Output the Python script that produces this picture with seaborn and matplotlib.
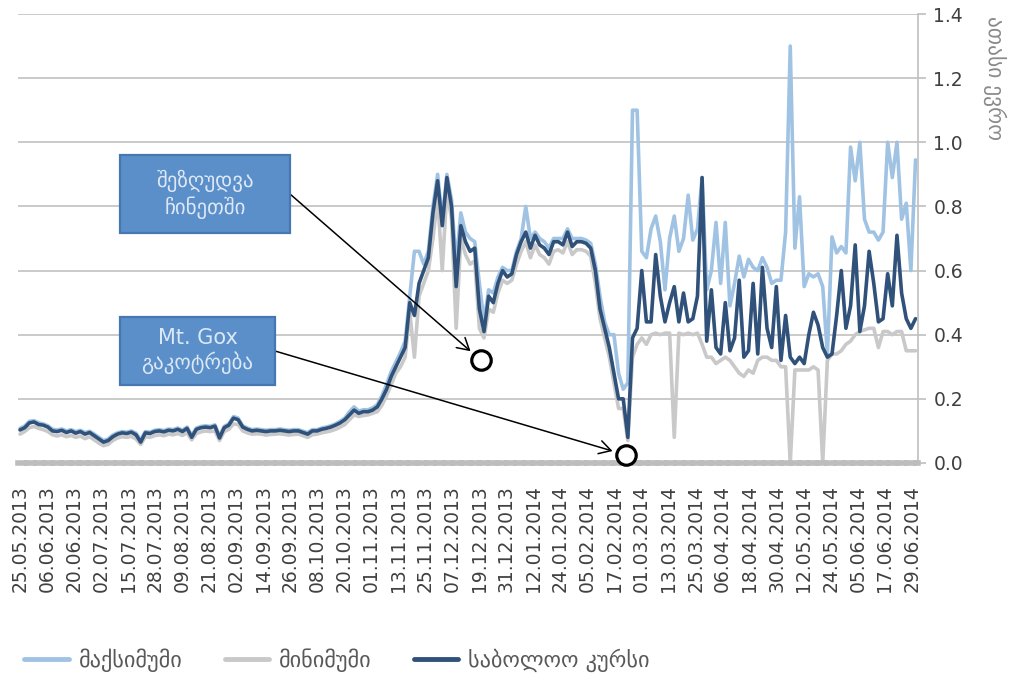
import matplotlib
matplotlib.use("Agg")
import matplotlib.pyplot as plt
import numpy as np
import pandas as pd
import seaborn as sns
from matplotlib.patches import Rectangle

sns.set_theme(style="white")
plt.rcParams["font.family"] = ["DejaVu Sans"]

# x tick labels, one every 12 trading days
tick_dates = [
    "25.05.2013", "06.06.2013", "20.06.2013", "02.07.2013", "15.07.2013",
    "28.07.2013", "09.08.2013", "21.08.2013", "02.09.2013", "14.09.2013",
    "26.09.2013", "08.10.2013", "20.10.2013", "01.11.2013", "13.11.2013",
    "25.11.2013", "07.12.2013", "19.12.2013", "31.12.2013", "12.01.2014",
    "24.01.2014", "05.02.2014", "17.02.2014", "01.03.2014", "13.03.2014",
    "25.03.2014", "06.04.2014", "18.04.2014", "30.04.2014", "12.05.2014",
    "24.05.2014", "05.06.2014", "17.06.2014", "29.06.2014",
]
y_ticks = [0.0, 0.2, 0.4, 0.6, 0.8, 1.0, 1.2, 1.4]

# thousand euro, every second day
close_price = [
    0.103, 0.110, 0.125, 0.128, 0.120, 0.118, 0.112, 0.100, 0.098, 0.102,
    0.095, 0.100, 0.093, 0.098, 0.090, 0.095, 0.085, 0.075, 0.065, 0.070,
    0.082, 0.090, 0.094, 0.092, 0.096, 0.088, 0.065, 0.094, 0.092, 0.098,
    0.100, 0.097, 0.102, 0.100, 0.105, 0.098, 0.108, 0.080, 0.105, 0.110,
    0.112, 0.110, 0.115, 0.078, 0.110, 0.118, 0.140, 0.135, 0.112, 0.105,
    0.100, 0.102, 0.100, 0.098, 0.100, 0.100, 0.102, 0.100, 0.098, 0.100,
    0.100, 0.095, 0.090, 0.100, 0.100, 0.105, 0.108, 0.112, 0.118, 0.125,
    0.135, 0.150, 0.165, 0.155, 0.160, 0.160, 0.165, 0.175, 0.200, 0.230,
    0.270, 0.300, 0.330, 0.360, 0.500, 0.460, 0.560, 0.600, 0.640, 0.780,
    0.880, 0.740, 0.890, 0.800, 0.550, 0.740, 0.690, 0.660, 0.670, 0.480,
    0.410, 0.520, 0.500, 0.560, 0.600, 0.580, 0.590, 0.650, 0.690, 0.720,
    0.670, 0.710, 0.680, 0.670, 0.650, 0.690, 0.690, 0.680, 0.720, 0.675,
    0.690, 0.690, 0.685, 0.670, 0.600, 0.480, 0.420, 0.360, 0.280, 0.200,
    0.200, 0.080, 0.390, 0.420, 0.600, 0.440, 0.440, 0.650, 0.520, 0.440,
    0.500, 0.550, 0.440, 0.530, 0.440, 0.450, 0.520, 0.890, 0.380, 0.540,
    0.360, 0.340, 0.500, 0.350, 0.390, 0.570, 0.330, 0.350, 0.560, 0.340,
    0.610, 0.420, 0.360, 0.550, 0.320, 0.460, 0.330, 0.310, 0.330, 0.310,
    0.400, 0.470, 0.430, 0.360, 0.330, 0.340, 0.460, 0.600, 0.420, 0.490,
    0.680, 0.410, 0.490, 0.660, 0.560, 0.440, 0.450, 0.590, 0.490, 0.710,
    0.530, 0.450, 0.420, 0.450,
]
max_price = [
    0.108, 0.115, 0.130, 0.132, 0.125, 0.122, 0.116, 0.105, 0.103, 0.106,
    0.100, 0.104, 0.098, 0.102, 0.095, 0.099, 0.090, 0.080, 0.070, 0.075,
    0.087, 0.094, 0.098, 0.096, 0.100, 0.093, 0.072, 0.098, 0.096, 0.102,
    0.104, 0.101, 0.106, 0.104, 0.109, 0.102, 0.112, 0.086, 0.109, 0.114,
    0.116, 0.114, 0.119, 0.084, 0.114, 0.122, 0.145, 0.140, 0.116, 0.109,
    0.104, 0.106, 0.104, 0.102, 0.104, 0.104, 0.106, 0.104, 0.102, 0.104,
    0.104, 0.099, 0.095, 0.104, 0.104, 0.109, 0.112, 0.116, 0.122, 0.130,
    0.140, 0.160, 0.175, 0.162, 0.166, 0.166, 0.172, 0.182, 0.210, 0.245,
    0.285, 0.315, 0.345, 0.380, 0.520, 0.660, 0.660, 0.620, 0.660, 0.800,
    0.900, 0.760, 0.900, 0.820, 0.620, 0.780, 0.720, 0.700, 0.690, 0.560,
    0.440, 0.540, 0.530, 0.580, 0.610, 0.600, 0.600, 0.660, 0.700, 0.800,
    0.700, 0.720, 0.700, 0.690, 0.670, 0.700, 0.700, 0.700, 0.730, 0.700,
    0.700, 0.700, 0.695, 0.685, 0.620, 0.520, 0.440, 0.400, 0.400, 0.280,
    0.230, 0.250, 1.100, 1.100, 0.660, 0.640, 0.730, 0.770, 0.690, 0.540,
    0.700, 0.770, 0.660, 0.700, 0.835, 0.695, 0.730, 0.890, 0.540, 0.600,
    0.750, 0.560, 0.750, 0.490, 0.560, 0.645, 0.580, 0.635, 0.610, 0.600,
    0.640, 0.610, 0.560, 0.570, 0.570, 0.720, 1.300, 0.670, 0.830, 0.550,
    0.590, 0.580, 0.590, 0.550, 0.340, 0.705, 0.655, 0.675, 0.655, 0.985,
    0.880, 1.000, 0.760, 0.720, 0.720, 0.695, 0.720, 1.000, 0.890, 1.000,
    0.760, 0.810, 0.600, 0.945,
]
min_price = [
    0.090, 0.098, 0.110, 0.114, 0.108, 0.104, 0.098, 0.088, 0.084, 0.088,
    0.082, 0.086, 0.080, 0.084, 0.076, 0.082, 0.072, 0.062, 0.054, 0.058,
    0.070, 0.078, 0.082, 0.080, 0.083, 0.075, 0.058, 0.082, 0.080, 0.085,
    0.088, 0.085, 0.090, 0.088, 0.092, 0.086, 0.094, 0.072, 0.092, 0.097,
    0.100, 0.098, 0.100, 0.070, 0.098, 0.105, 0.122, 0.120, 0.100, 0.094,
    0.090, 0.091, 0.090, 0.087, 0.089, 0.090, 0.091, 0.089, 0.087, 0.089,
    0.090, 0.085, 0.080, 0.088, 0.090, 0.094, 0.097, 0.100, 0.105, 0.112,
    0.120, 0.135, 0.150, 0.145, 0.148, 0.150, 0.155, 0.160, 0.180, 0.210,
    0.245, 0.280, 0.300, 0.330, 0.470, 0.330, 0.520, 0.560, 0.600, 0.700,
    0.830, 0.600, 0.850, 0.760, 0.420, 0.700, 0.650, 0.620, 0.630, 0.420,
    0.390, 0.480, 0.470, 0.530, 0.570, 0.560, 0.570, 0.620, 0.660, 0.690,
    0.640, 0.680, 0.650, 0.640, 0.620, 0.660, 0.665, 0.655, 0.690, 0.650,
    0.665, 0.665, 0.660, 0.645, 0.560, 0.450, 0.390, 0.330, 0.250, 0.170,
    0.170, 0.070, 0.330, 0.370, 0.390, 0.370, 0.400, 0.405, 0.400, 0.405,
    0.405, 0.080, 0.405, 0.400, 0.405, 0.400, 0.405, 0.370, 0.330, 0.330,
    0.310, 0.320, 0.330, 0.320, 0.300, 0.280, 0.270, 0.290, 0.280, 0.320,
    0.330, 0.330, 0.320, 0.320, 0.300, 0.300, 0.000, 0.290, 0.290, 0.290,
    0.290, 0.300, 0.290, 0.000, 0.320, 0.340, 0.340, 0.350, 0.370, 0.380,
    0.400, 0.410, 0.415, 0.420, 0.420, 0.360, 0.410, 0.410, 0.400, 0.410,
    0.410, 0.350, 0.350, 0.350,
]

series_names = ["მაქსიმუმი", "მინიმუმი", "საბოლოო კურსი"]
series_colors = ["#a0c3e4", "#c9c9c9", "#30527a"]

# events marked on the chart: (trading day, level, label)
events = [
    (204.7, 0.32, "შეზღუდვა\nჩინეთში"),
    (269.0, 0.025, "Mt. Gox\nგაკოტრება"),
]

n_days = 397.6
day = np.linspace(0, n_days, len(close_price))
df = pd.DataFrame({
    "day": day,
    series_names[0]: max_price,
    series_names[1]: min_price,
    series_names[2]: close_price,
})
long_df = df.melt(id_vars="day", var_name="series", value_name="value")

W, H = 1023, 679
fig = plt.figure(figsize=(W / 100, H / 100), dpi=100)
ax = fig.add_axes([18 / W, 1 - 463 / H, 900 / W, 449 / H])

sns.lineplot(
    data=long_df, x="day", y="value", hue="series",
    hue_order=series_names, palette=series_colors,
    linewidth=2.6, estimator=None, sort=False, ax=ax,
)

ax.set_xlim(-0.9, 398.7)
ax.set_ylim(0, 1.4)
ax.set_xlabel("")
ax.set_ylabel("")

# right-hand value axis
ax.yaxis.tick_right()
ax.set_yticks(y_ticks)
ax.set_yticklabels([f"{v:.1f}" for v in y_ticks])
ax.tick_params(axis="y", which="major", direction="out", length=6, width=1.2,
               color="#bfbfbf", labelsize=13.5, labelcolor="#404040", pad=5,
               right=True, left=False)
ax.yaxis.grid(True, color="#c6c6c6", linewidth=1.3)
ax.xaxis.grid(False)
ax.set_axisbelow(True)

ax.set_xticks(np.arange(len(tick_dates)) * 12)
ax.set_xticklabels(tick_dates, rotation=90)
ax.tick_params(axis="x", which="major", length=0, labelsize=13.5,
               labelcolor="#404040", pad=16)

for side in ["top", "left"]:
    ax.spines[side].set_visible(False)
ax.spines["right"].set_color("#bfbfbf")
ax.spines["right"].set_linewidth(1.2)
# thick dashed baseline, like the dense category ticks of the original
ax.spines["bottom"].set_color("#bdbdbd")
ax.spines["bottom"].set_linewidth(4)
ax.spines["bottom"].set_linestyle((0, (1.3, 0.3)))

fig.text(995 / W, 1 - 16 / H, "ათასი ევრო", rotation=-90, ha="center",
         va="top", fontsize=15.5, color="#8a8a8a")

# legend at the bottom
handles, labels = ax.get_legend_handles_labels()
ax.get_legend().remove()
for h in handles:
    h.set_linewidth(3.5)
fig.legend(handles, labels, loc="center left", bbox_to_anchor=(0.004, 0.028),
           ncol=3, frameon=False, fontsize=16, labelcolor="#595959",
           handlelength=2.0, handletextpad=0.45, columnspacing=1.9)

# annotation boxes with arrows pointing to the events
boxes = [(120, 155, 170, 78), (120, 317, 155, 68)]
for (ev_x, ev_y, text), (bx, by, bw, bh) in zip(events, boxes):
    rect = Rectangle((bx / W, 1 - (by + bh) / H), bw / W, bh / H,
                     transform=fig.transFigure, facecolor="#5b8fca",
                     edgecolor="#4677b0", linewidth=1.6, zorder=3)
    fig.add_artist(rect)
    fig.text((bx + bw / 2) / W, 1 - (by + bh / 2) / H, text, ha="center",
             va="center", fontsize=15, color="#dde8f5", linespacing=1.25,
             zorder=4)
    ax.annotate("", xy=(ev_x, ev_y),
                xytext=((bx + bw) / W, 1 - (by + bh / 2) / H),
                textcoords="figure fraction",
                arrowprops=dict(arrowstyle="->,head_length=0.7,head_width=0.4",
                                color="black", lw=1.1, shrinkA=0, shrinkB=10),
                zorder=6)
    ax.plot([ev_x], [ev_y], marker="o", markersize=14, markerfacecolor="white",
            markeredgecolor="black", markeredgewidth=2.3, zorder=7,
            clip_on=False)

fig.savefig("out.png", dpi=100)
